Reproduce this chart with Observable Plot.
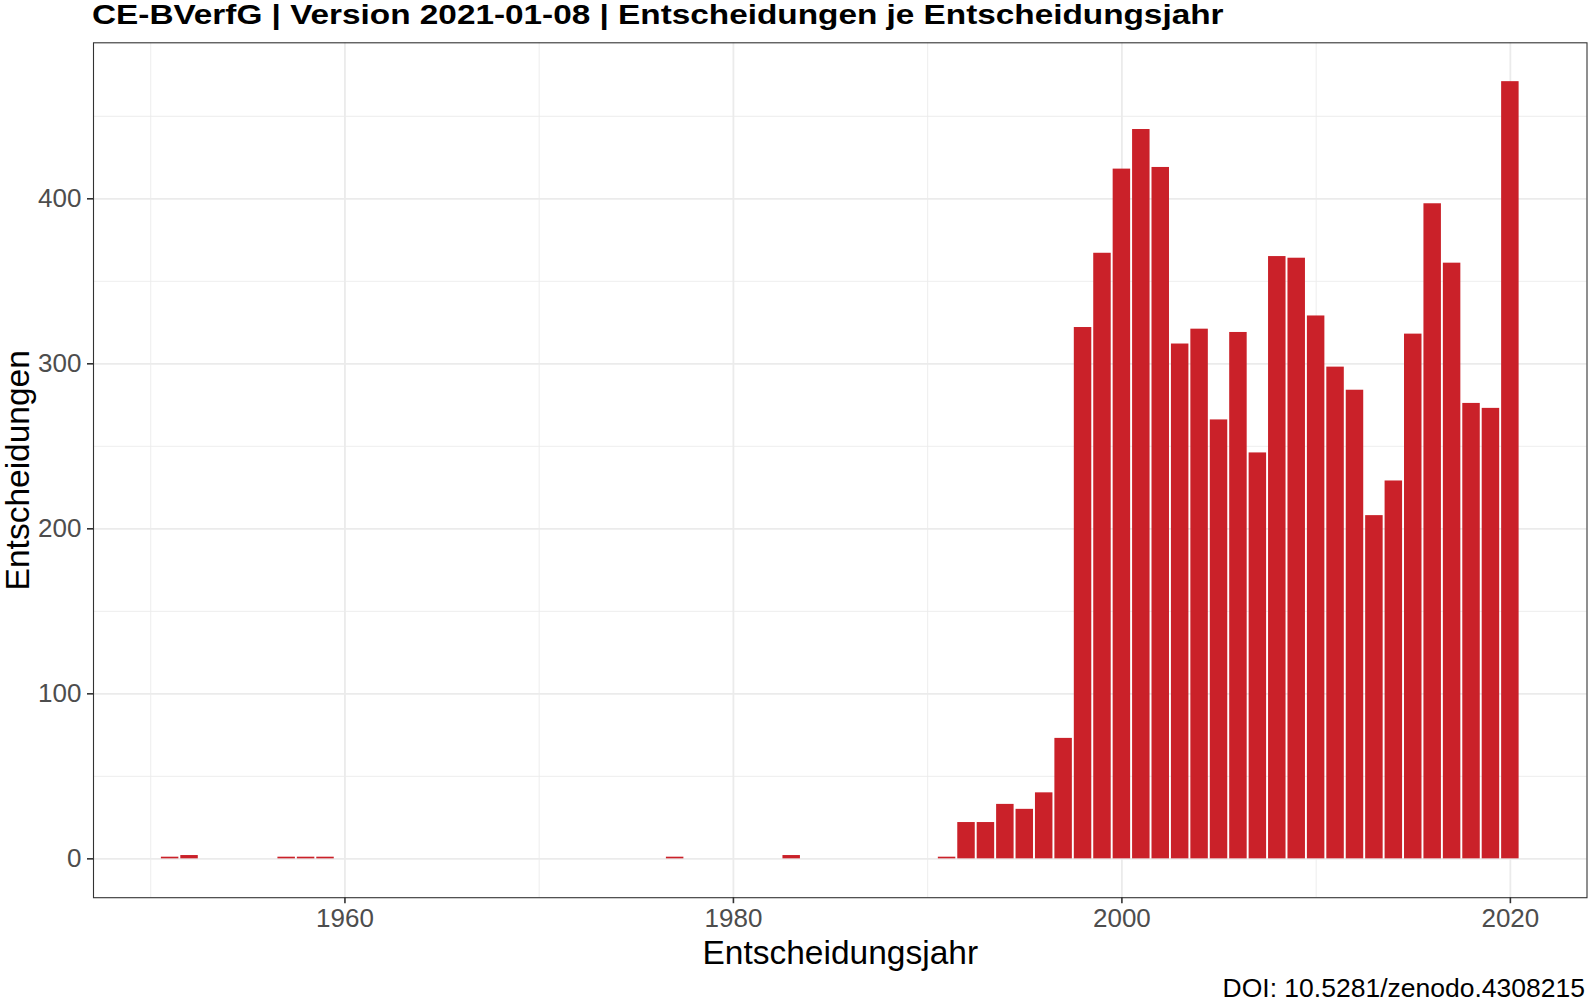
<!DOCTYPE html>
<html><head><meta charset="utf-8">
<script src="https://cdn.jsdelivr.net/npm/d3@7"></script>
<script src="https://cdn.jsdelivr.net/npm/@observablehq/plot@0.6"></script>
<style>
body{margin:0;background:#fff;font-family:"Liberation Sans",Arial,sans-serif;}
#wrap{width:1588px;height:1002px;position:relative;overflow:hidden;background:#fff}
#title{height:36px;line-height:30px;font-size:28px;font-weight:bold;padding-left:92px;color:#000;white-space:nowrap}
#title span{display:inline-block;transform:scaleX(1.19);transform-origin:0 50%}
#chart svg{display:block}
#caption{position:absolute;right:3px;bottom:1px;line-height:25.4px;font-size:26.5px;text-align:right;color:#000;white-space:nowrap}
</style></head><body>
<div id="wrap">
<div id="title"><span>CE-BVerfG | Version 2021-01-08 | Entscheidungen je Entscheidungsjahr</span></div>
<div id="chart"></div>
<div id="caption">DOI: 10.5281/zenodo.4308215</div>
</div>
<script>
const years = [1951,1952,1957,1958,1959,1977,1983,1991,1992,1993,1994,1995,1996,1997,1998,1999,2000,2001,2002,2003,2004,2005,2006,2007,2008,2009,2010,2011,2012,2013,2014,2015,2016,2017,2018,2019,2020];
const counts = [1,2,1,1,1,1,2,1,22,22,33,30,40,73,322,367,418,442,419,312,321,266,319,246,365,364,329,298,284,208,229,318,397,361,276,273,471];
const xTicks = [1960,1980,2000,2020];
const xMinor = [1950,1970,1990,2010];
const yTicks = [0,100,200,300,400];
const yMinor = [50,150,250,350,450];
const xLabel = "Entscheidungsjahr";
const yLabel = "Entscheidungen";

const data = years.map((year, i) => ({year, n: counts[i]}));
const barHalf = 0.45;
const xLo = d3.min(years) - barHalf, xHi = d3.max(years) + barHalf;
const xPad = 0.05 * (xHi - xLo);
const yMax = d3.max(counts);

const chart = Plot.plot({
  width: 1588,
  height: 940,
  marginTop: 6.3,
  marginLeft: 93,
  marginRight: 1.5,
  marginBottom: 78.8,
  style: {display: "block", background: "white", fontFamily: "'Liberation Sans', Arial, sans-serif", overflow: "visible"},
  x: {domain: [xLo - xPad, xHi + xPad], label: null},
  y: {domain: [-0.05 * yMax, 1.05 * yMax], label: null},
  marks: [
    Plot.gridX(xMinor, {stroke: "#ebebeb", strokeOpacity: 1, strokeWidth: 0.9}),
    Plot.gridY(yMinor, {stroke: "#ebebeb", strokeOpacity: 1, strokeWidth: 0.9}),
    Plot.gridX(xTicks, {stroke: "#ebebeb", strokeOpacity: 1, strokeWidth: 1.8}),
    Plot.gridY(yTicks, {stroke: "#ebebeb", strokeOpacity: 1, strokeWidth: 1.8}),
    Plot.rectY(data, {x1: d => d.year - barHalf, x2: d => d.year + barHalf, y1: 0, y2: "n", fill: "#ca2129"}),
    Plot.frame({stroke: "#333333", strokeWidth: 1.1}),
    Plot.axisX({ticks: xTicks, tickFormat: d => `${d}`, tickSize: 6, tickPadding: 5, fontSize: 26, stroke: "#333333", fill: "#4d4d4d", strokeWidth: 1.6, label: null}),
    Plot.axisY({ticks: yTicks, tickFormat: d => `${d}`, tickSize: 6, tickPadding: 6, fontSize: 26, stroke: "#333333", fill: "#4d4d4d", strokeWidth: 1.6, label: null}),
    Plot.text([xLabel], {text: d => d, frameAnchor: "bottom", textAnchor: "middle", lineAnchor: "bottom", dy: 66, fontSize: 33.5, fill: "black"}),
    Plot.text([yLabel], {text: d => d, frameAnchor: "left", textAnchor: "middle", rotate: -90, dx: -75, fontSize: 33.5, fill: "black"})
  ]
});
document.getElementById("chart").appendChild(chart);
</script>
</body></html>
